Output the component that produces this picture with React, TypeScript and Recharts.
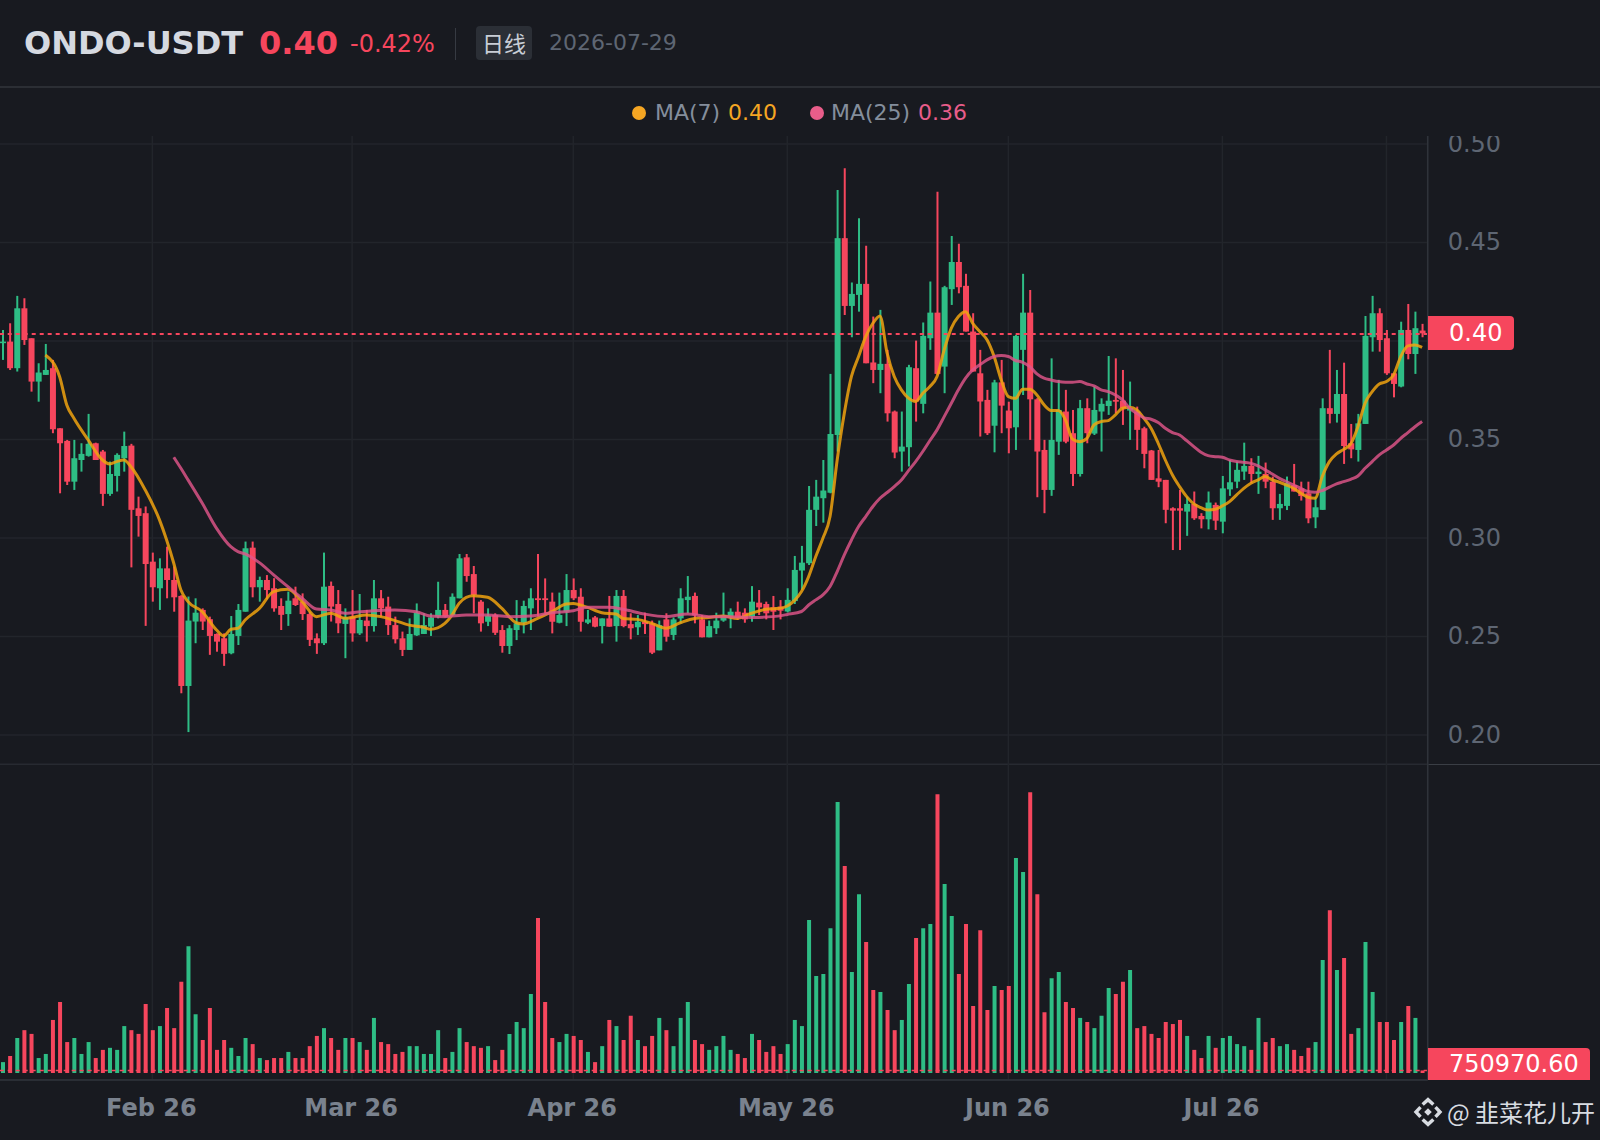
import React from "react";
import { ComposedChart, Bar, Line, XAxis, YAxis, CartesianGrid, ReferenceLine, Cell } from "recharts";

const UP = "#2ebd85";
const DOWN = "#f6465d";
const BG = "#181a20";
const GRID = "#22252b";
const AXIS = "#2f333a";
const FONT = "'DejaVu Sans', sans-serif";

const opens = [
  .3989,.3997,.3862,.4166,.4014,.3794,.3828,.3862,.3557,.3493,
  .3286,.3396,.3417,.3481,.3439,.3224,.3315,.3405,.3469,.3151,
  .3126,.288,.2745,.2846,.2787,.2706,.2249,.2576,.2635,.2588,
  .2513,.2491,.2415,.2503,.2626,.2951,.275,.2787,.2745,.2655,
  .2614,.2694,.2677,.2614,.2491,.2466,.2757,.2665,.2564,.2601,
  .2516,.2581,.2553,.2694,.2652,.2558,.2491,.2432,.2506,.2513,
  .255,.2601,.2635,.2609,.2694,.2902,.2817,.2677,.2575,.2609,
  .2533,.2452,.2533,.257,.2643,.2694,.2694,.2677,.257,.2626,
  .2736,.2702,.257,.2597,.2553,.2592,.2553,.2706,.2563,.2547,
  .2575,.2567,.243,.2587,.2508,.2592,.2685,.2706,.2587,.2496,
  .2542,.2581,.2601,.2626,.2621,.2601,.2672,.2665,.2648,.2652,
  .2627,.268,.2835,.2872,.3143,.3202,.323,.3523,.4522,.4178,
  .4234,.429,.3891,.3853,.3884,.3642,.3439,.3461,.3862,.3681,
  .4014,.4144,.387,.4263,.4401,.428,.4048,.3836,.3701,.357,
  .379,.3647,.3562,.3955,.4144,.3704,.3447,.3244,.3489,.3642,
  .3532,.3325,.3659,.353,.3642,.367,.3701,.3697,.3647,.3642,
  .3557,.3444,.3303,.3295,.3151,.3151,.3134,.3173,.3112,.3095,
  .3168,.3083,.3247,.3286,.3337,.3366,.3325,.3325,.3286,.3151,
  .3163,.3269,.3252,.3227,.3105,.3143,.3659,.363,.3731,.3481,
  .3447,.3579,.4019,.4141,.4014,.3836,.3769,.4056,.3934,.4053,
];

const closes = [
  .3997,.3862,.4166,.4005,.3794,.384,.3853,.3552,.3481,.3286,
  .3405,.3427,.3478,.3396,.3224,.3325,.3422,.3467,.3143,.3112,
  .2868,.275,.2846,.2787,.2699,.2249,.2581,.2621,.2576,.2503,
  .2474,.2412,.2513,.2635,.2948,.275,.2787,.2736,.2643,.261,
  .2682,.266,.2614,.2483,.2466,.2753,.2652,.2567,.2598,.2516,
  .2584,.2553,.2694,.2643,.2558,.2486,.2432,.2513,.2621,.2558,
  .2597,.2635,.2601,.2702,.2897,.2807,.2711,.2567,.2606,.2519,
  .2452,.2542,.2567,.2655,.2694,.2685,.2685,.2575,.2609,.2736,
  .2694,.2575,.2587,.255,.2592,.255,.2706,.2553,.2542,.2575,
  .2563,.2418,.2558,.2499,.2587,.2694,.2702,.2609,.2496,.2553,
  .2581,.2609,.2626,.2597,.2587,.2677,.2648,.2618,.2626,.2631,
  .2686,.2838,.2875,.3143,.321,.3241,.3528,.4522,.4178,.4239,
  .429,.3887,.3853,.3884,.3633,.3434,.3464,.3867,.3693,.4026,
  .4144,.3833,.4273,.4401,.4273,.4048,.3845,.3693,.3532,.379,
  .3672,.3557,.4026,.4144,.3704,.3439,.3244,.3498,.365,.3489,
  .3325,.3659,.3532,.365,.3681,.3697,.3692,.3659,.3659,.3549,
  .3427,.3295,.3286,.3143,.3139,.3139,.3173,.31,.3095,.318,
  .3088,.3252,.3283,.3346,.3366,.3325,.3337,.3286,.3151,.3173,
  .3278,.3236,.3213,.31,.3156,.3659,.363,.3731,.3467,.345,
  .3582,.4026,.4141,.4005,.3836,.3782,.4056,.3934,.4065,.4039,
];

const highs = [
  .4056,.409,.4229,.4217,.4014,.3887,.3985,.3904,.3557,.3498,
  .3498,.3481,.363,.3484,.3447,.3388,.343,.354,.3478,.321,
  .316,.2926,.2897,.2956,.2855,.271,.2703,.2694,.2643,.2601,
  .2516,.2516,.2604,.2665,.2982,.2982,.2804,.2812,.2796,.2694,
  .2728,.2753,.2719,.2626,.2516,.2926,.2779,.2736,.2643,.2736,
  .2716,.2635,.2787,.2736,.2702,.2601,.2525,.2592,.2668,.2618,
  .2618,.2778,.2665,.2719,.2919,.2919,.2858,.2685,.2643,.2618,
  .2558,.2558,.2685,.2682,.2745,.2919,.2795,.2723,.2723,.2817,
  .2795,.2745,.2635,.2604,.2592,.2706,.2736,.2736,.2618,.2609,
  .2621,.2581,.2581,.2618,.2597,.2745,.2807,.2723,.2609,.2581,
  .2621,.2723,.2643,.2677,.2643,.2756,.2736,.2677,.2706,.2685,
  .2745,.2909,.296,.3264,.3295,.3396,.3833,.4767,.4877,.4297,
  .4623,.4483,.4124,.4158,.3955,.3647,.3642,.3879,.4002,.4094,
  .4302,.4758,.428,.4533,.4493,.4341,.4141,.3955,.3752,.3803,
  .3904,.3692,.4031,.4341,.4259,.371,.3498,.3912,.3803,.3752,
  .365,.3701,.3709,.3769,.3709,.3924,.3912,.3853,.3794,.3667,
  .3565,.3447,.3447,.3295,.3156,.3244,.321,.3236,.3126,.3236,
  .318,.3315,.3396,.3388,.3484,.3405,.3417,.3383,.3312,.3224,
  .3312,.3376,.3286,.3286,.321,.3709,.3955,.3853,.389,.3579,
  .363,.4127,.4229,.4166,.4056,.3836,.4098,.4188,.4149,.4087,
];

const lows = [
  .3904,.3853,.3845,.398,.3743,.3692,.3828,.3532,.3227,.3269,
  .3244,.3337,.3413,.3396,.3163,.3214,.3236,.3337,.2851,.3007,
  .2554,.2677,.2635,.2694,.2626,.2212,.2015,.2466,.2533,.2407,
  .2423,.2351,.241,.2457,.2626,.2699,.2677,.2689,.2626,.2533,
  .2554,.2655,.2584,.2452,.2412,.2457,.2576,.2517,.239,.2474,
  .2508,.2474,.2525,.2601,.2508,.2465,.2401,.2432,.2503,.2513,
  .2503,.2592,.2597,.2605,.2694,.2778,.2618,.2525,.2553,.2508,
  .2418,.2411,.2482,.2516,.2533,.2601,.2618,.2516,.2567,.2553,
  .2685,.2525,.2563,.2547,.2465,.255,.2474,.2547,.2486,.2508,
  .2513,.2411,.243,.2474,.2482,.2567,.2618,.2567,.2496,.2496,
  .2513,.2575,.2542,.2584,.257,.2575,.2609,.2587,.2533,.2587,
  .2622,.2665,.2737,.2863,.3061,.3078,.3227,.3439,.4132,.4019,
  .4149,.3887,.3786,.3735,.3591,.3405,.3337,.3363,.3591,.3633,
  .3955,.3828,.3735,.4183,.4242,.4048,.3845,.3515,.3523,.3435,
  .3532,.343,.3447,.3726,.3498,.3207,.3126,.3214,.3422,.3481,
  .3264,.3312,.3481,.3523,.3439,.3625,.3633,.3574,.3498,.3447,
  .3354,.3295,.3258,.3075,.2939,.2939,.3011,.3092,.3049,.3044,
  .3041,.3024,.3214,.3253,.3295,.3278,.3224,.3253,.3092,.3092,
  .3142,.3236,.319,.3075,.305,.3143,.3582,.3586,.3376,.3405,
  .3388,.3579,.3946,.3946,.3828,.3714,.3765,.3907,.3833,.4019,
];

// volume, in millions
const volumes = [
  3.2,5.0,10.3,12.6,11.5,4.4,5.6,15.6,20.9,9.1,
  10.3,5.6,9.1,4.4,6.8,7.4,6.8,13.8,12.6,11.5,
  20.3,12.6,13.8,19.1,13.2,26.8,37.3,17.3,9.7,19.1,
  6.8,9.7,7.4,5.0,10.3,8.5,4.4,3.8,4.4,4.4,
  6.2,4.4,4.4,7.9,10.9,13.2,10.3,6.8,10.3,10.3,
  9.1,6.8,16.2,9.1,8.5,5.6,6.2,7.9,7.9,5.6,
  5.6,12.6,4.4,6.2,13.2,9.1,7.9,7.4,7.9,3.8,
  6.8,11.5,15.0,13.2,23.2,45.6,20.9,10.3,9.1,11.5,
  10.9,9.7,6.2,3.2,7.9,15.6,13.8,9.7,16.8,9.7,
  7.9,10.9,16.2,12.6,7.9,16.2,20.9,9.7,8.5,6.8,
  7.9,10.9,6.8,5.6,4.4,11.5,9.7,6.2,7.9,5.6,
  8.5,15.6,13.8,45.0,28.5,29.1,42.6,79.7,60.9,29.7,
  52.6,38.5,24.4,23.8,18.5,12.6,15.6,26.2,39.7,42.6,
  43.8,82.0,55.6,46.2,29.1,43.8,19.7,42.0,18.5,25.6,
  24.4,25.6,63.2,59.1,82.6,52.6,17.9,27.9,29.7,20.9,
  19.1,16.2,15.0,13.2,16.8,25.0,23.2,26.8,30.3,13.2,
  13.8,11.5,10.3,15.0,14.4,15.6,10.9,6.8,4.4,10.9,
  7.4,10.3,10.9,8.5,7.9,6.8,16.2,9.1,10.3,7.9,
  8.5,6.8,5.0,7.4,9.1,33.2,47.9,30.3,33.8,11.5,
  13.2,38.5,23.8,15.0,15.0,9.7,15.0,19.7,16.2,0.75,
];

// [candle index, MA value]
const ma7Points = [
  [6,.3929],[8,.3819],[9,.3675],[10,.3608],[12,.3498],[14,.3396],[15,.3376],[16,.3388],[17,.3396],[18,.3362],
  [20,.3244],[22,.3092],[23,.299],[24,.2872],[25,.2736],[26,.2677],[28,.2626],[30,.2533],[31,.2503],[32,.2537],
  [33,.2542],[34,.2584],[36,.2643],[38,.2728],[40,.274],[42,.2677],[44,.2601],[46,.2618],[48,.2593],[49,.2597],
  [51,.2609],[53,.2601],[55,.2581],[57,.2558],[59,.2547],[60,.2537],[62,.2567],[63,.2609],[64,.2668],[65,.2699],
  [66,.2707],[68,.2699],[70,.2643],[72,.257],[73,.2564],[75,.2592],[77,.2626],[79,.2665],[80,.2668],[82,.2648],
  [84,.2621],[86,.2614],[87,.2592],[89,.2587],[91,.2567],[93,.2542],[95,.257],[97,.2592],[99,.2597],[101,.2604],
  [103,.2592],[105,.2618],[107,.2638],[109,.2643],[110,.2655],[111,.2682],[112,.2728],[113,.2804],[114,.2906],[115,.2999],
  [116,.3109],[117,.3396],[118,.3633],[119,.382],[120,.3921],[121,.4022],[122,.409],[123,.4127],[124,.3938],[125,.382],
  [126,.3752],[127,.371],[128,.3693],[129,.3735],[130,.3769],[131,.382],[132,.3955],[133,.4065],[134,.4124],[135,.4149],
  [136,.409],[137,.4048],[138,.4006],[139,.3921],[140,.3802],[141,.3718],[142,.3709],[143,.3755],[144,.3755],[145,.3726],
  [146,.3676],[147,.3647],[148,.3647],[149,.36],[150,.3501],[151,.3489],[152,.3506],[153,.3574],[154,.3591],[155,.3596],
  [156,.3625],[157,.3659],[158,.3664],[159,.365],[160,.3608],[161,.3557],[162,.3481],[163,.3396],[164,.332],[165,.3261],
  [166,.321],[167,.3173],[168,.3154],[169,.3142],[170,.3146],[171,.3163],[172,.3185],[173,.3219],[174,.3252],[175,.3278],
  [176,.3295],[177,.3312],[178,.3295],[179,.3283],[180,.3269],[181,.3252],[182,.3227],[183,.3207],[184,.3202],[185,.3312],
  [186,.3388],[187,.3427],[188,.345],[189,.3478],[190,.3565],[191,.3684],[192,.3743],[193,.3782],[194,.3794],[195,.3828],
  [196,.3921],[197,.3975],[198,.398],[199,.3968],
];

const ma25Points = [
  [24,.341],[25,.3354],[26,.3295],[28,.3176],[30,.3049],[32,.2956],[33,.2931],[34,.2919],[36,.2875],[38,.2813],
  [40,.2753],[42,.2694],[44,.264],[46,.2635],[48,.2618],[49,.2621],[52,.2631],[55,.2635],[58,.2626],[60,.2604],
  [62,.2601],[65,.2609],[68,.2609],[71,.2601],[74,.2604],[77,.2621],[80,.2631],[82,.2648],[85,.2648],[87,.2638],
  [90,.2614],[93,.2601],[96,.2614],[99,.2601],[102,.2601],[105,.2597],[108,.2601],[110,.2612],[112,.2627],[113,.266],
  [114,.2686],[115,.2711],[116,.2754],[117,.283],[118,.2914],[119,.299],[120,.3058],[121,.3109],[122,.316],[123,.3202],
  [124,.3231],[125,.3261],[126,.3295],[127,.3342],[128,.3388],[129,.3439],[130,.3495],[131,.3549],[132,.3616],[133,.3684],
  [134,.3752],[135,.3811],[136,.3853],[137,.3879],[138,.3904],[139,.3921],[140,.3926],[141,.3921],[142,.3901],[143,.3892],
  [144,.387],[145,.3833],[146,.3811],[147,.3802],[148,.3794],[149,.3791],[150,.3791],[151,.3794],[152,.3782],[153,.3772],
  [154,.3752],[155,.3743],[156,.3726],[157,.3701],[158,.3659],[159,.3633],[160,.361],[161,.3603],[162,.3586],[163,.3557],
  [164,.3535],[165,.3523],[166,.3494],[167,.3464],[168,.3435],[169,.3418],[170,.3413],[171,.341],[172,.3396],[173,.3388],
  [174,.3384],[175,.3379],[176,.3366],[177,.3346],[178,.3325],[179,.3303],[180,.3286],[181,.3269],[182,.3252],[183,.3236],
  [184,.3232],[185,.3241],[186,.3258],[187,.3275],[188,.3286],[189,.3298],[190,.3315],[191,.3354],[192,.3388],[193,.3422],
  [194,.3447],[195,.3472],[196,.3506],[197,.3535],[198,.3565],[199,.3591],
];

const priceTicks = [0.2, 0.25, 0.3, 0.35, 0.4, 0.45, 0.5];
const volumeTicks = [0, 20, 40, 60, 80];
// first-of-month candles carry a label; the 24 Jul line has none
const monthTicks: Record<number, string> = { 21: "Feb 26", 49: "Mar 26", 80: "Apr 26", 110: "May 26", 141: "Jun 26", 171: "Jul 26", 194: "" };
const tickIndexes = Object.keys(monthTicks).map(Number);

const lastPrice = 0.4035;
const lastVolume = 0.75;

const ma7Map = new Map(ma7Points.map((p) => [p[0], p[1]]));
const ma25Map = new Map(ma25Points.map((p) => [p[0], p[1]]));

const rows = opens.map((open, i) => ({
  i,
  open,
  close: closes[i],
  high: highs[i],
  low: lows[i],
  range: [lows[i], highs[i]],
  volume: volumes[i],
  ma7: ma7Map.has(i) ? ma7Map.get(i) : null,
  ma25: ma25Map.has(i) ? ma25Map.get(i) : null,
}));

function Candle(props: any) {
  const { x, y, width, height, payload } = props;
  const up = payload.close >= payload.open;
  const color = up ? UP : DOWN;
  const perUnit = height / (payload.high - payload.low);
  const top = y + (payload.high - Math.max(payload.open, payload.close)) * perUnit;
  const bodyH = Math.max(Math.abs(payload.open - payload.close) * perUnit, 1.5);
  const cx = x + width / 2;
  return (
    <g>
      <line x1={cx} x2={cx} y1={y} y2={y + height} stroke={color} strokeWidth={2} />
      <rect x={x} y={top} width={width} height={bodyH} fill={color} />
    </g>
  );
}

const abs = (s: React.CSSProperties): React.CSSProperties => ({ position: "absolute", whiteSpace: "nowrap", fontFamily: FONT, ...s });

export default function App() {
  return (
    <div style={{ position: "absolute", left: 0, top: 0, width: 1600, height: 1140, background: BG, overflow: "hidden" }}>
      <style>{"html,body{margin:0;background:#181a20;overflow:hidden}"}</style>

      {/* price panel */}
      <div style={{ position: "absolute", left: -0.7, top: 90 }}>
        <ComposedChart width={1600.7} height={674} data={rows} margin={{ top: 0, right: 0, bottom: 0, left: 0 }} barCategoryGap={0}>
          <CartesianGrid stroke={GRID} strokeWidth={1.5} />
          <XAxis dataKey="i" type="category" hide ticks={tickIndexes} interval={0} padding={{ left: 0, right: 2 }} />
          <YAxis
            orientation="right"
            width={172}
            domain={[0.1853, 0.5274]}
            allowDataOverflow
            ticks={priceTicks}
            tickSize={0}
            tickMargin={20}
            axisLine={{ stroke: AXIS, strokeWidth: 1.5 }}
            tickFormatter={(v: number) => (v === 0.4 ? "" : v.toFixed(2))}
            tick={{ fill: "#5e6673", fontSize: 24, fontFamily: FONT, dy: -1 }}
          />
          <ReferenceLine y={lastPrice} stroke={DOWN} strokeDasharray="4 4" strokeWidth={2} />
          <Bar dataKey="range" barSize={6} shape={Candle} isAnimationActive={false} />
          <Line dataKey="ma7" type="monotone" stroke="#f0a30f" strokeOpacity={0.85} strokeWidth={3} dot={false} connectNulls isAnimationActive={false} />
          <Line dataKey="ma25" type="monotone" stroke="#e0558a" strokeOpacity={0.82} strokeWidth={3} dot={false} connectNulls isAnimationActive={false} />
        </ComposedChart>
      </div>
      <div style={{ position: "absolute", left: 0, top: 86, width: 1600, height: 50, background: BG }} />

      {/* header */}
      <div style={abs({ left: 24, top: 24, fontSize: 32, lineHeight: "38px", fontWeight: 700, color: "#d5d9e0" })}>ONDO-USDT</div>
      <div style={abs({ left: 259, top: 24, fontSize: 32, lineHeight: "38px", fontWeight: 700, color: DOWN })}>0.40</div>
      <div style={abs({ left: 350, top: 29, fontSize: 24, lineHeight: "30px", color: DOWN })}>-0.42%</div>
      <div style={abs({ left: 455, top: 28, width: 1, height: 32, background: "#363a42" })} />
      <div style={abs({ left: 476, top: 26, width: 56, height: 34, borderRadius: 4, background: "#2b2f36", color: "#c9ced6", fontSize: 22, lineHeight: "33px", textAlign: "center", fontFamily: "'Noto Sans CJK SC', sans-serif" })}>日线</div>
      <div style={abs({ left: 549, top: 29, fontSize: 22, lineHeight: "28px", color: "#5e6673" })}>2026-07-29</div>
      <div style={abs({ left: 0, top: 86, width: 1600, height: 2, background: "#2b2e34" })} />

      {/* legend */}
      <div style={abs({ left: 632, top: 106, width: 14, height: 14, borderRadius: 7, background: "#f5a623" })} />
      <div style={abs({ left: 655, top: 99, fontSize: 22, lineHeight: "28px", color: "#848e9c" })}>MA(7)</div>
      <div style={abs({ left: 728, top: 99, fontSize: 22, lineHeight: "28px", color: "#f5a623" })}>0.40</div>
      <div style={abs({ left: 810, top: 106, width: 14, height: 14, borderRadius: 7, background: "#e85d8a" })} />
      <div style={abs({ left: 831, top: 99, fontSize: 22, lineHeight: "28px", color: "#848e9c" })}>MA(25)</div>
      <div style={abs({ left: 918, top: 99, fontSize: 22, lineHeight: "28px", color: "#e85d8a" })}>0.36</div>

      <div style={abs({ left: 0, top: 764, width: 1600, height: 1, background: "#3a3e45" })} />

      {/* volume panel */}
      <div style={{ position: "absolute", left: -0.7, top: 764 }}>
        <ComposedChart width={1600.7} height={376} data={rows} margin={{ top: 0, right: 0, bottom: 0, left: 0 }} barCategoryGap={0}>
          <CartesianGrid stroke={GRID} strokeWidth={1.5} />
          <XAxis
            dataKey="i"
            type="category"
            height={60}
            ticks={tickIndexes}
            interval={0}
            padding={{ left: 0, right: 2 }}
            tickSize={0}
            tickMargin={19}
            axisLine={{ stroke: AXIS, strokeWidth: 1.5 }}
            tickFormatter={(v: number) => monthTicks[v] ?? ""}
            tick={{ fill: "#7a828e", fontSize: 24, fontWeight: 700, fontFamily: FONT, dx: -1 }}
          />
          <YAxis
            orientation="right"
            width={172}
            domain={[-2.06, 90.88]}
            allowDataOverflow
            ticks={volumeTicks}
            tick={false}
            tickSize={0}
            axisLine={{ stroke: AXIS, strokeWidth: 1.5 }}
          />
          <ReferenceLine y={lastVolume} stroke={DOWN} strokeDasharray="4 4" strokeWidth={1.5} />
          <Bar dataKey="volume" barSize={4} isAnimationActive={false}>
            {rows.map((r) => (
              <Cell key={r.i} fill={r.close >= r.open ? UP : DOWN} />
            ))}
          </Bar>
        </ComposedChart>
      </div>

      {/* last price and last volume tags */}
      <div style={abs({ left: 1428, top: 316, width: 86, height: 34, background: DOWN, borderRadius: "0 4px 4px 0", color: "#fff", fontSize: 24, lineHeight: "34px", paddingLeft: 21, boxSizing: "border-box" })}>0.40</div>
      <div style={abs({ left: 1428, top: 1048, width: 162, height: 32, background: DOWN, borderRadius: "0 4px 0 0", color: "#fff", fontSize: 24, lineHeight: "33px", paddingLeft: 21, boxSizing: "border-box" })}>750970.60</div>

      {/* watermark */}
      <svg style={{ position: "absolute", left: 1413, top: 1097 }} width="30" height="30" viewBox="0 0 28 28">
        <g fill="none" stroke="#d8dce2" strokeWidth="3.2">
          <path d="M9 7 L14 2.5 L19 7" />
          <path d="M9 21 L14 25.5 L19 21" />
          <path d="M7 9.5 L2.8 14 L7 18.5" />
          <path d="M21 9.5 L25.2 14 L21 18.5" />
        </g>
        <rect x="11.5" y="11.5" width="5" height="5" transform="rotate(45 14 14)" fill="#d8dce2" />
      </svg>
      <div style={abs({ left: 1447, top: 1096, fontSize: 24, lineHeight: "32px", color: "#d8dce2", fontFamily: "'Noto Sans CJK SC', sans-serif" })}>@ 韭菜花儿开</div>
    </div>
  );
}
